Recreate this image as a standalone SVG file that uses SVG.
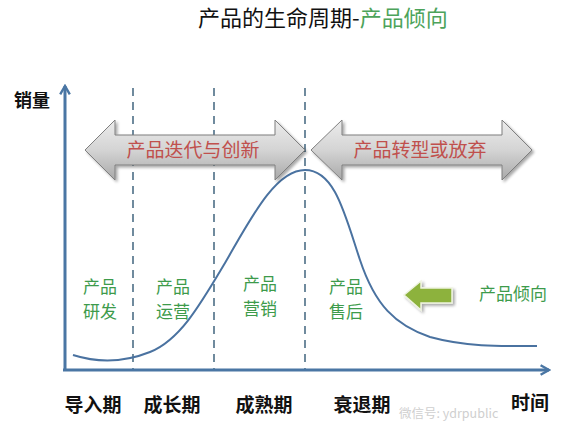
<svg xmlns="http://www.w3.org/2000/svg" width="578" height="426" viewBox="0 0 578 426">
<style>
.cjk{font-family:"Noto Sans CJK SC","Liberation Sans",sans-serif}
.grn{fill:#3d9b4b;font-size:17px;text-anchor:middle}
.red{fill:#c0504d;font-size:19px;text-anchor:middle}
.lbl{fill:#111;font-size:19px;font-weight:bold;text-anchor:middle}
.dash{stroke:#4d6e86;stroke-width:1.6;stroke-dasharray:8 6;fill:none}
.axis{stroke:#4a76a4;stroke-width:3;fill:none}
.big{fill:url(#gg);stroke:#7f7f7f;stroke-width:1;filter:url(#sh)}
</style>
<defs>
<linearGradient id="gg" x1="0" y1="0" x2="0" y2="1">
<stop offset="0" stop-color="#ececec"/>
<stop offset="0.5" stop-color="#d4d4d4"/>
<stop offset="1" stop-color="#a9a9a9"/>
</linearGradient>
<filter id="sh" x="-10%" y="-20%" width="120%" height="150%">
<feGaussianBlur in="SourceAlpha" stdDeviation="1.5"/>
<feOffset dx="1.5" dy="2" result="o"/>
<feComponentTransfer><feFuncA type="linear" slope="0.35"/></feComponentTransfer>
<feMerge><feMergeNode/><feMergeNode in="SourceGraphic"/></feMerge>
</filter>
<marker id="ah" viewBox="0 0 10 10" refX="8" refY="5" markerWidth="4" markerHeight="4" orient="auto">
<path d="M1,1 L8,5 L1,9" fill="none" stroke="#4a76a4" stroke-width="2"/>
</marker>
</defs>
<rect width="578" height="426" fill="#fff"/>
<text class="cjk" x="198" y="26" font-size="22" fill="#111">产品的生命周期-<tspan fill="#4ca35a">产品倾向</tspan></text>
<g id="connectors">
<path class="dash" d="M133,88 V370"/>
<path class="dash" d="M214,88 V370"/>
<path class="dash" d="M305,88 V370"/>
<path class="axis" d="M65,370 V86" marker-end="url(#ah)"/>
<path class="axis" d="M63,370 H549" marker-end="url(#ah)"/>
<path d="M73,355 C95,362 120,364 150,352 C180,340 200,305 225,263 C250,220 275,170 305,170 C335,170 345,215 360,260 C375,305 395,325 430,337 C470,348 510,346 537,346" fill="none" stroke="#4a72a0" stroke-width="2"/>
</g>
<g id="yLabel"><text class="cjk" x="14" y="107" font-size="18" font-weight="bold" fill="#111">销量</text></g>
<g id="arrowLeft">
<path class="big" d="M85,150 L115,120 L115,135 L275,135 L275,120 L305,150 L275,180 L275,165 L115,165 L115,180 Z"/>
<text class="cjk red" x="193" y="157">产品迭代与创新</text>
</g>
<g id="arrowRight">
<path class="big" d="M311,150 L342,120 L342,135 L502,135 L502,120 L532,150 L502,180 L502,165 L342,165 L342,180 Z"/>
<text class="cjk red" x="420" y="157">产品转型或放弃</text>
</g>
<g id="rd"><text class="cjk grn" x="100" y="293">产品</text><text class="cjk grn" x="100" y="318">研发</text></g>
<g id="ops"><text class="cjk grn" x="173" y="293">产品</text><text class="cjk grn" x="173" y="318">运营</text></g>
<g id="mkt"><text class="cjk grn" x="260" y="290">产品</text><text class="cjk grn" x="260" y="315">营销</text></g>
<g id="after"><text class="cjk grn" x="346" y="293">产品</text><text class="cjk grn" x="346" y="318">售后</text></g>
<g id="tendency">
<path d="M404,295 L421,281 L421,288 L452,288 L452,303 L421,303 L421,310 Z" fill="#8db23e" stroke="#eef3e0" stroke-width="1.5" filter="url(#sh)"/>
<text class="cjk grn" x="513" y="300" font-size="18">产品倾向</text>
</g>
<g id="stages">
<text class="cjk lbl" x="93" y="412">导入期</text>
<text class="cjk lbl" x="172" y="412">成长期</text>
<text class="cjk lbl" x="264" y="412">成熟期</text>
<text class="cjk lbl" x="362" y="412">衰退期</text>
<text class="cjk lbl" x="530" y="410">时间</text>
</g>
<text class="cjk" x="399" y="418" font-size="12.5" fill="#cfcfcf">微信号: ydrpublic</text>
</svg>
